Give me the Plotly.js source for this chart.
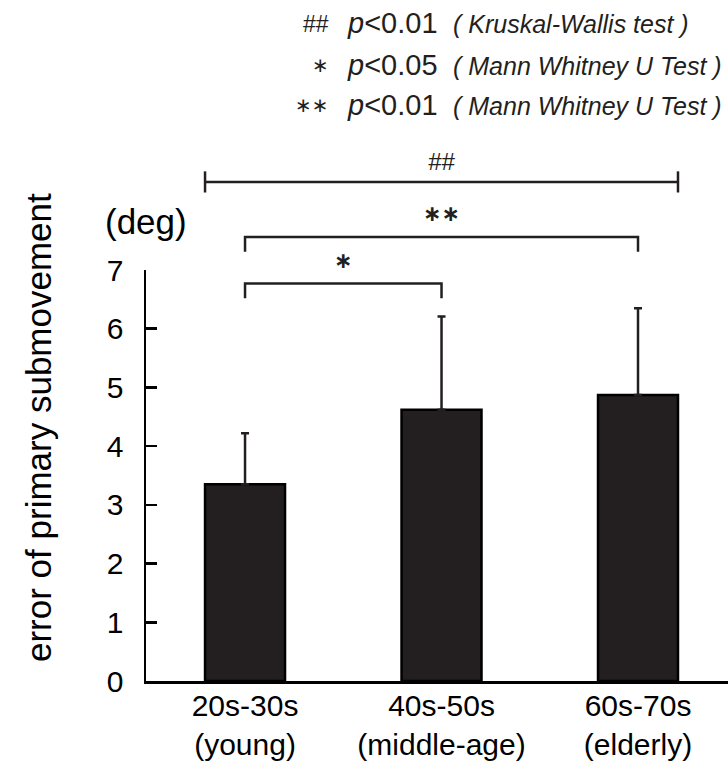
<!DOCTYPE html>
<html>
<head>
<meta charset="utf-8">
<script src="https://cdn.plot.ly/plotly-3.0.1.min.js"></script>
<style>html,body{margin:0;padding:0;background:#fff;}#chart{width:728px;height:769px;}</style>
</head>
<body>
<div id="chart"></div>
<script>
// ---- data ----
const categories = ['20s-30s<br>(young)', '40s-50s<br>(middle-age)', '60s-70s<br>(elderly)'];
const means = [3.35, 4.62, 4.87];
const sdUpper = [0.87, 1.59, 1.48];
const yTicks = [0, 1, 2, 3, 4, 5, 6, 7];
const yTitle = 'error of primary submovement';
const yUnit = '(deg)';

// significance comparisons (category index from -> to)
const compFrom = [0, 0, 0];
const compTo = [2, 2, 1];
const compLabels = ['##', '\u2217\u2217', '\u2217'];

// legend lines
const legendMarks = ['##', '\u2217', '\u2217\u2217'];
const legendP = ['<i>p</i>&lt;0.01', '<i>p</i>&lt;0.05', '<i>p</i>&lt;0.01'];
const legendTests = ['Kruskal-Wallis test', 'Mann Whitney U Test', 'Mann Whitney U Test'];

// ---- layout helpers ----
const W = 728, H = 769;
const M = {l: 146, r: 0, t: 270, b: 88};
const plotW = W - M.l - M.r, plotH = H - M.t - M.b;
const yMax = 7;
const barWidth = 0.407;
const FONT = '"Liberation Sans", Arial, Helvetica, sans-serif';
const SYM = '"DejaVu Sans", "Liberation Sans", Arial, sans-serif';
const INK = '#231f20';
const pxX = px => (px - M.l) / plotW;             // pixel x -> paper x
const pxY = px => (H - M.b - px) / plotH;          // pixel y -> paper y
const valY = v => v / yMax;                        // data y -> paper y

const trace = {
  type: 'bar',
  x: categories,
  y: means,
  width: barWidth,
  marker: {color: INK, line: {color: '#000', width: 2.5}},
  error_y: {type: 'data', symmetric: false, array: sdUpper, arrayminus: sdUpper.map(() => 0),
            color: INK, thickness: 2.5, width: 4},
  hoverinfo: 'none'
};

const shapes = [];
const annotations = [];
// bracket levels (data units)
const levels = [8.5, 7.56, 6.77];
compFrom.forEach((f, i) => {
  const t = compTo[i];
  let x0 = f, x1 = t;
  const yl = valY(levels[i]);
  if (i === 0) {
    x0 = f - barWidth / 2; x1 = t + barWidth / 2;
    shapes.push({type: 'line', xref: 'x', yref: 'paper', x0: x0, x1: x1, y0: yl, y1: yl, line: {color: INK, width: 2.5}});
    [x0, x1].forEach(xx => shapes.push({type: 'line', xref: 'x', yref: 'paper', x0: xx, x1: xx, y0: valY(levels[i] - 0.18), y1: valY(levels[i] + 0.18), line: {color: INK, width: 2.5}}));
    annotations.push({xref: 'x', yref: 'paper', x: (f + t) / 2, y: valY(levels[i] + 0.35), text: '<i>' + compLabels[i] + '</i>', showarrow: false,
      font: {family: FONT, size: 24, color: INK}, xanchor: 'center', yanchor: 'middle'});
  } else {
    shapes.push({type: 'path', xref: 'x', yref: 'paper',
      path: `M ${x0} ${valY(levels[i] - 0.25)} L ${x0} ${yl} L ${x1} ${yl} L ${x1} ${valY(levels[i] - 0.25)}`,
      line: {color: INK, width: 2.5}});
    annotations.push({xref: 'x', yref: 'paper', x: (f + t) / 2, y: valY(levels[i] + 0.4), text: '<b>' + compLabels[i] + '</b>', showarrow: false,
      font: {family: SYM, size: 22, color: INK}, xanchor: 'center', yanchor: 'middle'});
  }
});

// legend text at top
const legendRows = [23, 65, 105];
legendRows.forEach((row, i) => {
  annotations.push({xref: 'paper', yref: 'paper', x: pxX(331), y: pxY(row + (i === 0 ? 1 : 0)), xanchor: 'right', yanchor: 'middle', showarrow: false,
    text: legendMarks[i], font: {family: i === 0 ? FONT : SYM, size: i === 0 ? 23 : 20, color: INK}});
  annotations.push({xref: 'paper', yref: 'paper', x: pxX(345), y: pxY(row), xanchor: 'left', yanchor: 'middle', showarrow: false,
    text: legendP[i], font: {family: FONT, size: 29, color: INK}});
  annotations.push({xref: 'paper', yref: 'paper', x: pxX(451), y: pxY(row + 1), xanchor: 'left', yanchor: 'middle', showarrow: false,
    text: '<i>( ' + legendTests[i] + ' )</i>', font: {family: FONT, size: 25, color: INK}});
});

// unit label
annotations.push({xref: 'paper', yref: 'paper', x: pxX(146), y: pxY(222), xanchor: 'center', yanchor: 'middle', showarrow: false,
  text: yUnit, font: {family: FONT, size: 35, color: '#000'}});
// y-axis title (placed as rotated text, off-centre like the reference)
annotations.push({xref: 'paper', yref: 'paper', x: pxX(38), y: pxY(428), xanchor: 'center', yanchor: 'middle', showarrow: false,
  textangle: -90, text: yTitle, font: {family: FONT, size: 35, color: '#000'}});

const layout = {
  width: W, height: H,
  margin: M,
  paper_bgcolor: '#fff', plot_bgcolor: '#fff',
  showlegend: false,
  font: {family: FONT, color: '#000'},
  xaxis: {
    type: 'category',
    range: [-0.504, 2.458],
    showline: true, linecolor: '#000', linewidth: 2.5,
    ticks: '', showgrid: false, zeroline: false,
    tickfont: {family: FONT, size: 30, color: '#000'},
    ticklabelstandoff: -4,
    automargin: false
  },
  yaxis: {
    range: [0, yMax],
    tickvals: yTicks,
    showline: true, linecolor: '#000', linewidth: 2.5,
    ticks: 'inside', ticklen: 11, tickwidth: 2.5, tickcolor: '#000',
    showgrid: false, zeroline: false,
    tickfont: {family: FONT, size: 30, color: '#000'},
    ticklabelstandoff: 14,
    automargin: false
  },
  shapes: shapes,
  annotations: annotations,
  bargap: 0
};

Plotly.newPlot('chart', [trace], layout, {displayModeBar: false, staticPlot: true});
</script>
</body>
</html>
